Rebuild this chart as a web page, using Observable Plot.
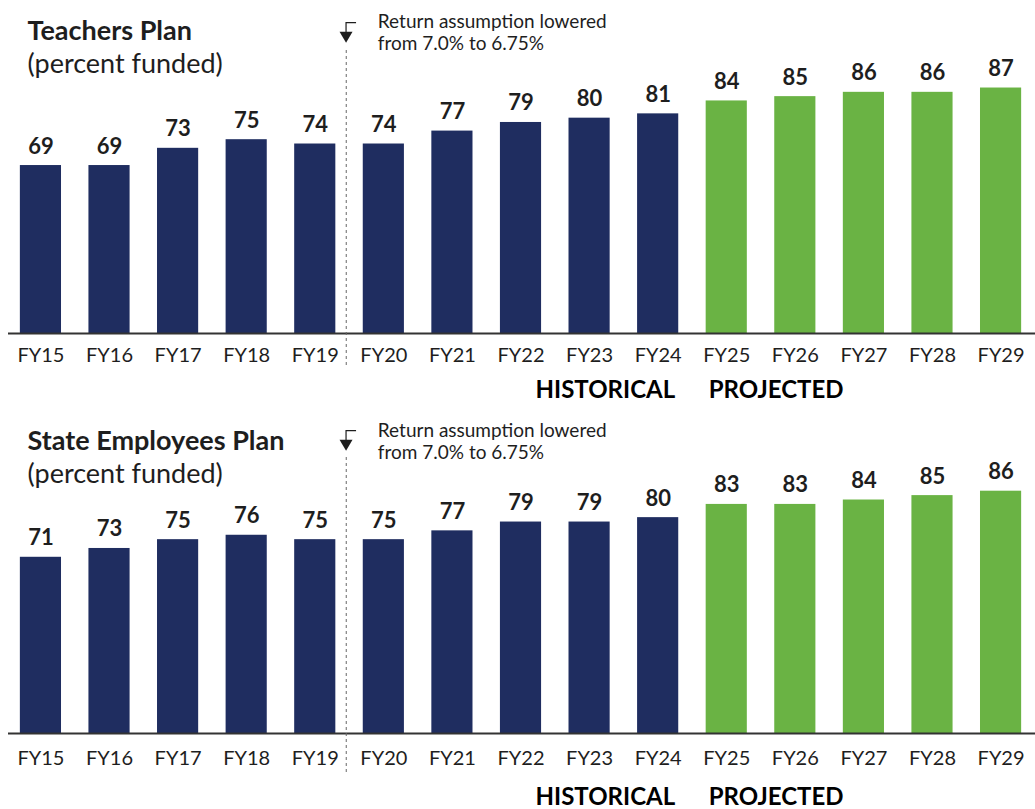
<!DOCTYPE html>
<html>
<head>
<meta charset="utf-8">
<script src="https://cdn.jsdelivr.net/npm/d3@7"></script>
<script src="https://cdn.jsdelivr.net/npm/@observablehq/plot@0.6"></script>
<style>
  body { margin: 0; background: #fff; }
  #chart { width: 1035px; }
  #chart svg { display: block; }
</style>
</head>
<body>
<div id="chart"></div>
<script>
// ---- data ----
const years = ["FY15","FY16","FY17","FY18","FY19","FY20","FY21","FY22","FY23","FY24","FY25","FY26","FY27","FY28","FY29"];
const period = ["Historical","Historical","Historical","Historical","Historical","Historical","Historical","Historical","Historical","Historical","Projected","Projected","Projected","Projected","Projected"];
const teachersFunded = [69,69,73,75,74,74,77,79,80,81,84,85,86,86,87];
const stateEmployeesFunded = [71,73,75,76,75,75,77,79,79,80,83,83,84,85,86];
const panelTitles = ["Teachers Plan", "State Employees Plan"];
const subtitle = "(percent funded)";
const annotation = "Return assumption lowered\nfrom 7.0% to 6.75%";
const changeYear = "FY20";
const periodLabels = ["HISTORICAL", "PROJECTED"];

const FONT = "Lato, 'Open Sans', sans-serif";
const NAVY = "#1f2d60";
const GREEN = "#6ab344";
const INK = "#1e1e1e";

function panel(title, values, L) {
  const data = years.map((fy, i) => ({fy, value: values[i], period: period[i]}));
  const arrow = (index, scales, vals, dims) => {
    const bw = scales.x.bandwidth ? scales.x.bandwidth() : 0;
    const prev = years[years.indexOf(changeYear) - 1];
    const x = (scales.x(prev) + bw + scales.x(changeYear)) / 2 - 3;
    const t = dims.marginTop + L.arrowTop;
    const g = d3.create("svg:g");
    g.append("path").attr("d", `M${x + 10},${t} H${x} V${t + 10}`).attr("fill", "none").attr("stroke", INK).attr("stroke-width", 1.2);
    g.append("path").attr("d", `M${x - 6.5},${t + 9} H${x + 6.5} L${x},${t + 20} Z`).attr("fill", INK);
    return g.node();
  };
  return Plot.plot({
    width: 1035,
    height: L.height,
    marginLeft: 13,
    marginRight: 7,
    marginTop: L.marginTop,
    marginBottom: L.marginBottom,
    style: {fontFamily: FONT, color: INK, background: "#fff"},
    x: {domain: years, paddingInner: 0.4, paddingOuter: 0.1, round: false, label: null},
    y: {domain: L.yDomain, axis: null},
    color: {domain: ["Historical","Projected"], range: [NAVY, GREEN]},
    marks: [
      Plot.barY(data, {x: "fy", y1: L.yDomain[0], y2: "value", fill: "period"}),
      Plot.ruleY([L.yDomain[0]], {stroke: "#333", strokeWidth: 2, insetLeft: -5, insetRight: -7}),
      Plot.text(data, {x: "fy", y: "value", text: d => String(d.value), dy: -12, lineAnchor: "bottom", fontSize: 22, fontWeight: "bold", fill: INK}),
      Plot.axisX({tickSize: 0, tickPadding: L.tickPadding, fontSize: 20, fill: INK, label: null}),
      Plot.ruleX([changeYear], {dx: -37.6, stroke: "#666", strokeWidth: 1, strokeDasharray: "3,3", insetTop: L.dashTop, insetBottom: L.dashBottom}),
      arrow,
      Plot.text([annotation], {x: () => changeYear, frameAnchor: "top", dx: -6, dy: L.annDy, textAnchor: "start", lineAnchor: "top", fontSize: 19, lineHeight: 1.2, fill: INK}),
      Plot.text([title], {frameAnchor: "top-left", dx: 14, dy: L.titleDy, lineAnchor: "top", fontSize: 27, fontWeight: "bold", fill: INK}),
      Plot.text([subtitle], {frameAnchor: "top-left", dx: 14, dy: L.subDy, lineAnchor: "top", fontSize: 27, fill: INK}),
      Plot.text([periodLabels[0]], {x: () => "FY24", frameAnchor: "bottom", dx: 17, dy: L.periodDy, textAnchor: "end", lineAnchor: "middle", fontSize: 24, fontWeight: "bold", fill: "#000"}),
      Plot.text([periodLabels[1]], {x: () => "FY25", frameAnchor: "bottom", dx: -18, dy: L.periodDy, textAnchor: "start", lineAnchor: "middle", fontSize: 24, fontWeight: "bold", fill: "#000"})
    ]
  });
}

const root = document.getElementById("chart");
root.append(panel(panelTitles[0], teachersFunded, {
  height: 404, marginTop: 10, marginBottom: 71, yDomain: [30, 105],
  tickPadding: 14, dashTop: 40, dashBottom: -33, arrowTop: 12.7,
  annDy: 1, titleDy: 10, subDy: 43, periodDy: 57
}));
root.append(panel(panelTitles[1], stateEmployeesFunded, {
  height: 405, marginTop: 3, marginBottom: 76, yDomain: [31, 105],
  tickPadding: 17, dashTop: 50, dashBottom: -42, arrowTop: 23.7,
  annDy: 13, titleDy: 23, subDy: 56, periodDy: 64
}));
</script>
</body>
</html>
